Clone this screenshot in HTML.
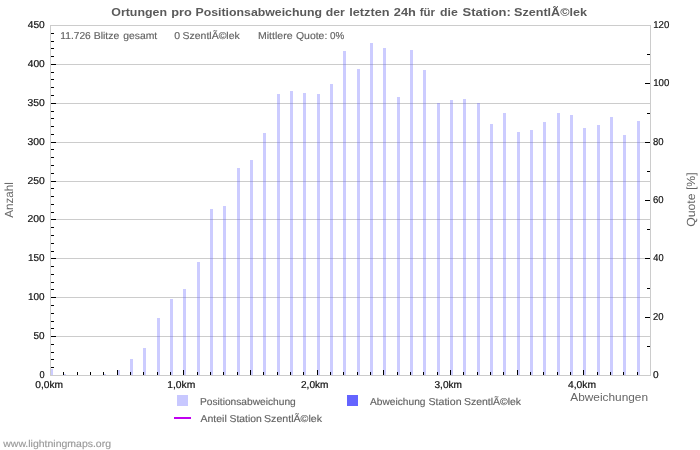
<!DOCTYPE html>
<html><head><meta charset="utf-8"><title>Ortungen pro Positionsabweichung</title>
<style>html,body{margin:0;padding:0;background:#fff;}svg{display:block;will-change:transform;}text{font-family:"Liberation Sans",sans-serif;text-rendering:geometricPrecision;}text.h{text-rendering:auto;}</style>
</head><body>
<svg width="700" height="450" viewBox="0 0 700 450">
<rect x="0" y="0" width="700" height="450" fill="#ffffff"/>
<g shape-rendering="crispEdges">
<rect x="56" y="336" width="594" height="1" fill="#cccccc"/>
<rect x="56" y="297" width="594" height="1" fill="#cccccc"/>
<rect x="56" y="258" width="594" height="1" fill="#cccccc"/>
<rect x="56" y="219" width="594" height="1" fill="#cccccc"/>
<rect x="56" y="181" width="594" height="1" fill="#cccccc"/>
<rect x="56" y="142" width="594" height="1" fill="#cccccc"/>
<rect x="56" y="103" width="594" height="1" fill="#cccccc"/>
<rect x="56" y="64" width="594" height="1" fill="#cccccc"/>
<rect x="50" y="369" width="3" height="6" fill="rgba(100,100,255,0.33)"/>
<rect x="63" y="374" width="3" height="1" fill="rgba(100,100,255,0.33)"/>
<rect x="103" y="374" width="3" height="1" fill="rgba(100,100,255,0.33)"/>
<rect x="117" y="370" width="3" height="5" fill="rgba(100,100,255,0.33)"/>
<rect x="130" y="359" width="3" height="16" fill="rgba(100,100,255,0.33)"/>
<rect x="143" y="348" width="3" height="27" fill="rgba(100,100,255,0.33)"/>
<rect x="157" y="318" width="3" height="57" fill="rgba(100,100,255,0.33)"/>
<rect x="170" y="299" width="3" height="76" fill="rgba(100,100,255,0.33)"/>
<rect x="183" y="289" width="3" height="86" fill="rgba(100,100,255,0.33)"/>
<rect x="197" y="262" width="3" height="113" fill="rgba(100,100,255,0.33)"/>
<rect x="210" y="209" width="3" height="166" fill="rgba(100,100,255,0.33)"/>
<rect x="223" y="206" width="3" height="169" fill="rgba(100,100,255,0.33)"/>
<rect x="237" y="168" width="3" height="207" fill="rgba(100,100,255,0.33)"/>
<rect x="250" y="160" width="3" height="215" fill="rgba(100,100,255,0.33)"/>
<rect x="263" y="133" width="3" height="242" fill="rgba(100,100,255,0.33)"/>
<rect x="277" y="94" width="3" height="281" fill="rgba(100,100,255,0.33)"/>
<rect x="290" y="91" width="3" height="284" fill="rgba(100,100,255,0.33)"/>
<rect x="303" y="93" width="3" height="282" fill="rgba(100,100,255,0.33)"/>
<rect x="317" y="94" width="3" height="281" fill="rgba(100,100,255,0.33)"/>
<rect x="330" y="84" width="3" height="291" fill="rgba(100,100,255,0.33)"/>
<rect x="343" y="51" width="3" height="324" fill="rgba(100,100,255,0.33)"/>
<rect x="357" y="69" width="3" height="306" fill="rgba(100,100,255,0.33)"/>
<rect x="370" y="43" width="3" height="332" fill="rgba(100,100,255,0.33)"/>
<rect x="383" y="48" width="3" height="327" fill="rgba(100,100,255,0.33)"/>
<rect x="397" y="97" width="3" height="278" fill="rgba(100,100,255,0.33)"/>
<rect x="410" y="50" width="3" height="325" fill="rgba(100,100,255,0.33)"/>
<rect x="423" y="70" width="3" height="305" fill="rgba(100,100,255,0.33)"/>
<rect x="437" y="103" width="3" height="272" fill="rgba(100,100,255,0.33)"/>
<rect x="450" y="100" width="3" height="275" fill="rgba(100,100,255,0.33)"/>
<rect x="463" y="99" width="3" height="276" fill="rgba(100,100,255,0.33)"/>
<rect x="477" y="103" width="3" height="272" fill="rgba(100,100,255,0.33)"/>
<rect x="490" y="124" width="3" height="251" fill="rgba(100,100,255,0.33)"/>
<rect x="503" y="113" width="3" height="262" fill="rgba(100,100,255,0.33)"/>
<rect x="517" y="132" width="3" height="243" fill="rgba(100,100,255,0.33)"/>
<rect x="530" y="130" width="3" height="245" fill="rgba(100,100,255,0.33)"/>
<rect x="543" y="122" width="3" height="253" fill="rgba(100,100,255,0.33)"/>
<rect x="557" y="113" width="3" height="262" fill="rgba(100,100,255,0.33)"/>
<rect x="570" y="115" width="3" height="260" fill="rgba(100,100,255,0.33)"/>
<rect x="583" y="128" width="3" height="247" fill="rgba(100,100,255,0.33)"/>
<rect x="597" y="125" width="3" height="250" fill="rgba(100,100,255,0.33)"/>
<rect x="610" y="117" width="3" height="258" fill="rgba(100,100,255,0.33)"/>
<rect x="623" y="135" width="3" height="240" fill="rgba(100,100,255,0.33)"/>
<rect x="637" y="121" width="3" height="254" fill="rgba(100,100,255,0.33)"/>
<rect x="50" y="25" width="601" height="1" fill="#cccccc"/>
<rect x="50" y="375" width="601" height="1" fill="#cccccc"/>
<rect x="50" y="25" width="1" height="351" fill="#cccccc"/>
<rect x="650" y="25" width="1" height="351" fill="#cccccc"/>
<rect x="51" y="367" width="3" height="1" fill="#000"/>
<rect x="51" y="359" width="3" height="1" fill="#000"/>
<rect x="51" y="352" width="3" height="1" fill="#000"/>
<rect x="51" y="344" width="3" height="1" fill="#000"/>
<rect x="51" y="336" width="5" height="1" fill="#000"/>
<rect x="51" y="328" width="3" height="1" fill="#000"/>
<rect x="51" y="321" width="3" height="1" fill="#000"/>
<rect x="51" y="313" width="3" height="1" fill="#000"/>
<rect x="51" y="305" width="3" height="1" fill="#000"/>
<rect x="51" y="297" width="5" height="1" fill="#000"/>
<rect x="51" y="289" width="3" height="1" fill="#000"/>
<rect x="51" y="282" width="3" height="1" fill="#000"/>
<rect x="51" y="274" width="3" height="1" fill="#000"/>
<rect x="51" y="266" width="3" height="1" fill="#000"/>
<rect x="51" y="258" width="5" height="1" fill="#000"/>
<rect x="51" y="251" width="3" height="1" fill="#000"/>
<rect x="51" y="243" width="3" height="1" fill="#000"/>
<rect x="51" y="235" width="3" height="1" fill="#000"/>
<rect x="51" y="227" width="3" height="1" fill="#000"/>
<rect x="51" y="219" width="5" height="1" fill="#000"/>
<rect x="51" y="212" width="3" height="1" fill="#000"/>
<rect x="51" y="204" width="3" height="1" fill="#000"/>
<rect x="51" y="196" width="3" height="1" fill="#000"/>
<rect x="51" y="188" width="3" height="1" fill="#000"/>
<rect x="51" y="181" width="5" height="1" fill="#000"/>
<rect x="51" y="173" width="3" height="1" fill="#000"/>
<rect x="51" y="165" width="3" height="1" fill="#000"/>
<rect x="51" y="157" width="3" height="1" fill="#000"/>
<rect x="51" y="149" width="3" height="1" fill="#000"/>
<rect x="51" y="142" width="5" height="1" fill="#000"/>
<rect x="51" y="134" width="3" height="1" fill="#000"/>
<rect x="51" y="126" width="3" height="1" fill="#000"/>
<rect x="51" y="118" width="3" height="1" fill="#000"/>
<rect x="51" y="111" width="3" height="1" fill="#000"/>
<rect x="51" y="103" width="5" height="1" fill="#000"/>
<rect x="51" y="95" width="3" height="1" fill="#000"/>
<rect x="51" y="87" width="3" height="1" fill="#000"/>
<rect x="51" y="79" width="3" height="1" fill="#000"/>
<rect x="51" y="72" width="3" height="1" fill="#000"/>
<rect x="51" y="64" width="5" height="1" fill="#000"/>
<rect x="51" y="56" width="3" height="1" fill="#000"/>
<rect x="51" y="48" width="3" height="1" fill="#000"/>
<rect x="51" y="41" width="3" height="1" fill="#000"/>
<rect x="51" y="33" width="3" height="1" fill="#000"/>
<rect x="647" y="346" width="3" height="1" fill="#000"/>
<rect x="645" y="317" width="5" height="1" fill="#000"/>
<rect x="647" y="288" width="3" height="1" fill="#000"/>
<rect x="645" y="258" width="5" height="1" fill="#000"/>
<rect x="647" y="229" width="3" height="1" fill="#000"/>
<rect x="645" y="200" width="5" height="1" fill="#000"/>
<rect x="647" y="171" width="3" height="1" fill="#000"/>
<rect x="645" y="142" width="5" height="1" fill="#000"/>
<rect x="647" y="113" width="3" height="1" fill="#000"/>
<rect x="645" y="83" width="5" height="1" fill="#000"/>
<rect x="647" y="54" width="3" height="1" fill="#000"/>
<rect x="63" y="372" width="1" height="3" fill="#000"/>
<rect x="77" y="372" width="1" height="3" fill="#000"/>
<rect x="90" y="372" width="1" height="3" fill="#000"/>
<rect x="103" y="372" width="1" height="3" fill="#000"/>
<rect x="117" y="370" width="1" height="5" fill="#000"/>
<rect x="130" y="372" width="1" height="3" fill="#000"/>
<rect x="143" y="372" width="1" height="3" fill="#000"/>
<rect x="157" y="372" width="1" height="3" fill="#000"/>
<rect x="170" y="372" width="1" height="3" fill="#000"/>
<rect x="183" y="370" width="1" height="5" fill="#000"/>
<rect x="197" y="372" width="1" height="3" fill="#000"/>
<rect x="210" y="372" width="1" height="3" fill="#000"/>
<rect x="223" y="372" width="1" height="3" fill="#000"/>
<rect x="237" y="372" width="1" height="3" fill="#000"/>
<rect x="250" y="370" width="1" height="5" fill="#000"/>
<rect x="263" y="372" width="1" height="3" fill="#000"/>
<rect x="277" y="372" width="1" height="3" fill="#000"/>
<rect x="290" y="372" width="1" height="3" fill="#000"/>
<rect x="303" y="372" width="1" height="3" fill="#000"/>
<rect x="317" y="370" width="1" height="5" fill="#000"/>
<rect x="330" y="372" width="1" height="3" fill="#000"/>
<rect x="343" y="372" width="1" height="3" fill="#000"/>
<rect x="357" y="372" width="1" height="3" fill="#000"/>
<rect x="370" y="372" width="1" height="3" fill="#000"/>
<rect x="383" y="370" width="1" height="5" fill="#000"/>
<rect x="397" y="372" width="1" height="3" fill="#000"/>
<rect x="410" y="372" width="1" height="3" fill="#000"/>
<rect x="423" y="372" width="1" height="3" fill="#000"/>
<rect x="437" y="372" width="1" height="3" fill="#000"/>
<rect x="450" y="370" width="1" height="5" fill="#000"/>
<rect x="463" y="372" width="1" height="3" fill="#000"/>
<rect x="477" y="372" width="1" height="3" fill="#000"/>
<rect x="490" y="372" width="1" height="3" fill="#000"/>
<rect x="503" y="372" width="1" height="3" fill="#000"/>
<rect x="517" y="370" width="1" height="5" fill="#000"/>
<rect x="530" y="372" width="1" height="3" fill="#000"/>
<rect x="543" y="372" width="1" height="3" fill="#000"/>
<rect x="557" y="372" width="1" height="3" fill="#000"/>
<rect x="570" y="372" width="1" height="3" fill="#000"/>
<rect x="583" y="370" width="1" height="5" fill="#000"/>
<rect x="597" y="372" width="1" height="3" fill="#000"/>
<rect x="610" y="372" width="1" height="3" fill="#000"/>
<rect x="623" y="372" width="1" height="3" fill="#000"/>
<rect x="637" y="372" width="1" height="3" fill="#000"/>
</g>
<text class="h" x="111.25" y="16" font-size="11.2" font-weight="bold" fill="#5a5a5a" textLength="55.78" lengthAdjust="spacingAndGlyphs">Ortungen</text>
<text class="h" x="171.25" y="16" font-size="11.2" font-weight="bold" fill="#5a5a5a" textLength="20.59" lengthAdjust="spacingAndGlyphs">pro</text>
<text class="h" x="195.5" y="16" font-size="11.2" font-weight="bold" fill="#5a5a5a" textLength="126.52" lengthAdjust="spacingAndGlyphs">Positionsabweichung</text>
<text class="h" x="325.75" y="16" font-size="11.2" font-weight="bold" fill="#5a5a5a" textLength="19.03" lengthAdjust="spacingAndGlyphs">der</text>
<text class="h" x="349.25" y="16" font-size="11.2" font-weight="bold" fill="#5a5a5a" textLength="40.31" lengthAdjust="spacingAndGlyphs">letzten</text>
<text class="h" x="393.75" y="16" font-size="11.2" font-weight="bold" fill="#5a5a5a" textLength="22.08" lengthAdjust="spacingAndGlyphs">24h</text>
<text class="h" x="419.75" y="16" font-size="11.2" font-weight="bold" fill="#5a5a5a" textLength="15.26" lengthAdjust="spacingAndGlyphs">für</text>
<text class="h" x="440.0" y="16" font-size="11.2" font-weight="bold" fill="#5a5a5a" textLength="17.8" lengthAdjust="spacingAndGlyphs">die</text>
<text class="h" x="462.5" y="16" font-size="11.2" font-weight="bold" fill="#5a5a5a" textLength="48.31" lengthAdjust="spacingAndGlyphs">Station:</text>
<text class="h" x="514.0" y="16" font-size="11.2" font-weight="bold" fill="#5a5a5a" textLength="73.0" lengthAdjust="spacingAndGlyphs">SzentlÃ©lek</text>
<text stroke="#636363" stroke-width="0.15" x="60.25" y="39" font-size="10" font-weight="normal" fill="#636363" textLength="30.55" lengthAdjust="spacingAndGlyphs">11.726</text>
<text stroke="#636363" stroke-width="0.15" x="93.75" y="39" font-size="10" font-weight="normal" fill="#636363" textLength="25.57" lengthAdjust="spacingAndGlyphs">Blitze</text>
<text stroke="#636363" stroke-width="0.15" x="123.25" y="39" font-size="10" font-weight="normal" fill="#636363" textLength="34.01" lengthAdjust="spacingAndGlyphs">gesamt</text>
<text stroke="#636363" stroke-width="0.15" x="174.25" y="39" font-size="10" font-weight="normal" fill="#636363" textLength="5.84" lengthAdjust="spacingAndGlyphs">0</text>
<text stroke="#636363" stroke-width="0.15" x="182.5" y="39" font-size="10" font-weight="normal" fill="#636363" textLength="57.26" lengthAdjust="spacingAndGlyphs">SzentlÃ©lek</text>
<text stroke="#636363" stroke-width="0.15" x="258.0" y="39" font-size="10" font-weight="normal" fill="#636363" textLength="34.55" lengthAdjust="spacingAndGlyphs">Mittlere</text>
<text stroke="#636363" stroke-width="0.15" x="296.0" y="39" font-size="10" font-weight="normal" fill="#636363" textLength="31.31" lengthAdjust="spacingAndGlyphs">Quote:</text>
<text stroke="#636363" stroke-width="0.15" x="330.0" y="39" font-size="10" font-weight="normal" fill="#636363" textLength="14.28" lengthAdjust="spacingAndGlyphs">0%</text>
<text stroke="#636363" stroke-width="0.15" x="200.0" y="405" font-size="10" font-weight="normal" fill="#636363" textLength="95.77" lengthAdjust="spacingAndGlyphs">Positionsabweichung</text>
<text stroke="#636363" stroke-width="0.15" x="370.0" y="405" font-size="10" font-weight="normal" fill="#636363" textLength="55.51" lengthAdjust="spacingAndGlyphs">Abweichung</text>
<text stroke="#636363" stroke-width="0.15" x="428.5" y="405" font-size="10" font-weight="normal" fill="#636363" textLength="33.04" lengthAdjust="spacingAndGlyphs">Station</text>
<text stroke="#636363" stroke-width="0.15" x="464.0" y="405" font-size="10" font-weight="normal" fill="#636363" textLength="57.01" lengthAdjust="spacingAndGlyphs">SzentlÃ©lek</text>
<text stroke="#636363" stroke-width="0.15" x="200.5" y="422" font-size="10" font-weight="normal" fill="#636363" textLength="26.27" lengthAdjust="spacingAndGlyphs">Anteil</text>
<text stroke="#636363" stroke-width="0.15" x="229.5" y="422" font-size="10" font-weight="normal" fill="#636363" textLength="32.29" lengthAdjust="spacingAndGlyphs">Station</text>
<text stroke="#636363" stroke-width="0.15" x="264.0" y="422" font-size="10" font-weight="normal" fill="#636363" textLength="58.01" lengthAdjust="spacingAndGlyphs">SzentlÃ©lek</text>
<text stroke="#9a9a9a" stroke-width="0.15" x="3.25" y="447" font-size="10" font-weight="normal" fill="#9a9a9a" textLength="107.75" lengthAdjust="spacingAndGlyphs">www.lightningmaps.org</text>
<text class="h" x="570.25" y="400.7" font-size="11.8" font-weight="normal" fill="#666666" textLength="77.76" lengthAdjust="spacingAndGlyphs">Abweichungen</text>
<text stroke="#111111" stroke-width="0.2" x="39.5" y="378" font-size="10" font-weight="normal" fill="#111111" textLength="5.11" lengthAdjust="spacingAndGlyphs">0</text>
<text stroke="#111111" stroke-width="0.2" x="33.5" y="339" font-size="10" font-weight="normal" fill="#111111" textLength="11.05" lengthAdjust="spacingAndGlyphs">50</text>
<text stroke="#111111" stroke-width="0.2" x="28.0" y="300" font-size="10" font-weight="normal" fill="#111111" textLength="16.57" lengthAdjust="spacingAndGlyphs">100</text>
<text stroke="#111111" stroke-width="0.2" x="28.0" y="261" font-size="10" font-weight="normal" fill="#111111" textLength="16.57" lengthAdjust="spacingAndGlyphs">150</text>
<text stroke="#111111" stroke-width="0.2" x="27.5" y="222" font-size="10" font-weight="normal" fill="#111111" textLength="17.3" lengthAdjust="spacingAndGlyphs">200</text>
<text stroke="#111111" stroke-width="0.2" x="27.5" y="184" font-size="10" font-weight="normal" fill="#111111" textLength="17.3" lengthAdjust="spacingAndGlyphs">250</text>
<text stroke="#111111" stroke-width="0.2" x="27.5" y="145" font-size="10" font-weight="normal" fill="#111111" textLength="17.3" lengthAdjust="spacingAndGlyphs">300</text>
<text stroke="#111111" stroke-width="0.2" x="27.5" y="106" font-size="10" font-weight="normal" fill="#111111" textLength="17.3" lengthAdjust="spacingAndGlyphs">350</text>
<text stroke="#111111" stroke-width="0.2" x="27.75" y="67" font-size="10" font-weight="normal" fill="#111111" textLength="17.03" lengthAdjust="spacingAndGlyphs">400</text>
<text stroke="#111111" stroke-width="0.2" x="27.75" y="28" font-size="10" font-weight="normal" fill="#111111" textLength="17.03" lengthAdjust="spacingAndGlyphs">450</text>
<text stroke="#111111" stroke-width="0.2" x="653.0" y="378" font-size="10" font-weight="normal" fill="#111111" textLength="5.61" lengthAdjust="spacingAndGlyphs">0</text>
<text stroke="#111111" stroke-width="0.2" x="653.0" y="320" font-size="10" font-weight="normal" fill="#111111" textLength="10.57" lengthAdjust="spacingAndGlyphs">20</text>
<text stroke="#111111" stroke-width="0.2" x="653.25" y="261" font-size="10" font-weight="normal" fill="#111111" textLength="10.28" lengthAdjust="spacingAndGlyphs">40</text>
<text stroke="#111111" stroke-width="0.2" x="653.0" y="203" font-size="10" font-weight="normal" fill="#111111" textLength="10.57" lengthAdjust="spacingAndGlyphs">60</text>
<text stroke="#111111" stroke-width="0.2" x="653.0" y="145" font-size="10" font-weight="normal" fill="#111111" textLength="10.57" lengthAdjust="spacingAndGlyphs">80</text>
<text stroke="#111111" stroke-width="0.2" x="653.25" y="86" font-size="10" font-weight="normal" fill="#111111" textLength="16.07" lengthAdjust="spacingAndGlyphs">100</text>
<text stroke="#111111" stroke-width="0.2" x="653.25" y="28" font-size="10" font-weight="normal" fill="#111111" textLength="16.07" lengthAdjust="spacingAndGlyphs">120</text>
<text stroke="#111111" stroke-width="0.2" x="35.25" y="388" font-size="10" font-weight="normal" fill="#111111" textLength="27.79" lengthAdjust="spacingAndGlyphs">0,0km</text>
<text stroke="#111111" stroke-width="0.2" x="167.25" y="388" font-size="10" font-weight="normal" fill="#111111" textLength="28.08" lengthAdjust="spacingAndGlyphs">1,0km</text>
<text stroke="#111111" stroke-width="0.2" x="301.0" y="388" font-size="10" font-weight="normal" fill="#111111" textLength="27.54" lengthAdjust="spacingAndGlyphs">2,0km</text>
<text stroke="#111111" stroke-width="0.2" x="434.5" y="388" font-size="10" font-weight="normal" fill="#111111" textLength="27.54" lengthAdjust="spacingAndGlyphs">3,0km</text>
<text stroke="#111111" stroke-width="0.2" x="568.0" y="388" font-size="10" font-weight="normal" fill="#111111" textLength="28.03" lengthAdjust="spacingAndGlyphs">4,0km</text>
<text transform="translate(13.3,217.8) rotate(-90)" font-size="11.8" fill="#666666" textLength="35.6" lengthAdjust="spacingAndGlyphs">Anzahl</text>
<text transform="translate(695,226.8) rotate(-90)" font-size="11.8" fill="#666666" textLength="54.4" lengthAdjust="spacingAndGlyphs">Quote [%]</text>
<g shape-rendering="crispEdges">
<rect x="177" y="395" width="11" height="11" fill="#c8c8ff"/>
<rect x="347" y="395" width="11" height="11" fill="#6464ff"/>
<rect x="174" y="417" width="17" height="2" fill="#c000f0"/>
</g>
</svg>
</body></html>
